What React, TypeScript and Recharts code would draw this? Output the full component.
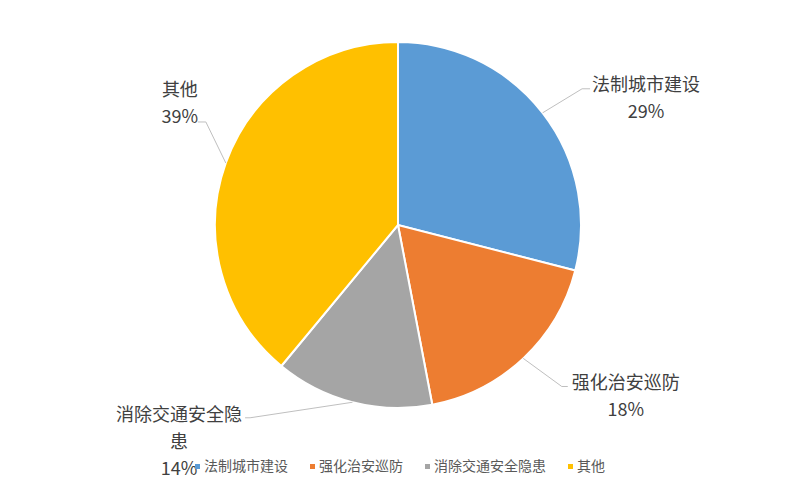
import React from 'react';
import { PieChart, Pie, Cell, Legend } from 'recharts';

const CATEGORIES = ['法制城市建设', '强化治安巡防', '消除交通安全隐患', '其他'];
const VALUES = [29, 18, 14, 39];
const COLORS = ['#5B9BD5', '#ED7D31', '#A5A5A5', '#FFC000'];

// label placement tweaks (relative to each slice's mid angle)
const LABEL_LAYOUT = [
  { angleOffset: 1.3, radius: 229, dx: 64, dy: -6, tail: 8 },
  { angleOffset: -2.2, radius: 230, dx: 64, dy: -5, tail: 6 },
  { angleOffset: 23.1, radius: 243, dx: -71, dy: -5, tail: -5 },
  { angleOffset: 8.4, radius: 218, dx: -26, dy: -34, tail: -8 },
];

const FONT = '"Noto Sans CJK SC", "Noto Sans", sans-serif';

const data = CATEGORIES.map((name, i) => ({ name, value: VALUES[i] }));

const chunk = (s: string, n: number) => {
  const out: string[] = [];
  const chars = Array.from(s);
  for (let i = 0; i < chars.length; i += n) out.push(chars.slice(i, i + n).join(''));
  return out;
};

const renderLabel = (props: any) => {
  const { cx, cy, midAngle, outerRadius, index, name, percent } = props;
  const L = LABEL_LAYOUT[index];
  const a = ((90 - midAngle) * Math.PI) / 180;
  const sx = cx + outerRadius * Math.sin(a);
  const sy = cy - outerRadius * Math.cos(a);
  const b = ((90 - midAngle + L.angleOffset) * Math.PI) / 180;
  const ex = cx + L.radius * Math.sin(b);
  const ey = cy - L.radius * Math.cos(b);
  const tx = ex + L.tail;
  const lines = chunk(String(name), 7).concat([`${Math.round(percent * 100)}%`]);
  const centerX = ex + L.dx;
  const firstY = ey + L.dy;
  return (
    <g>
      <path d={`M${sx},${sy}L${ex},${ey}L${tx},${ey}`} stroke="#BFBFBF" strokeWidth={1} fill="none" />
      {lines.map((ln, i) => (
        <text
          key={i}
          x={centerX}
          y={firstY + i * 27}
          textAnchor="middle"
          dominantBaseline="central"
          fill="#404040"
          fontSize={18}
          fontFamily={FONT}
        >
          {ln}
        </text>
      ))}
    </g>
  );
};

const renderLegend = () => (
  <div
    style={{
      display: 'flex',
      justifyContent: 'center',
      alignItems: 'center',
      height: 22,
      fontFamily: FONT,
      fontSize: 14,
      color: '#595959',
      whiteSpace: 'nowrap',
    }}
  >
    {CATEGORIES.map((c, i) => (
      <div key={c} style={{ display: 'flex', alignItems: 'center', marginLeft: i === 0 ? 0 : 22 }}>
        <span style={{ width: 5, height: 5, background: COLORS[i], marginRight: 4, marginTop: 3, display: 'inline-block' }} />
        <span style={{ lineHeight: '22px' }}>{c}</span>
      </div>
    ))}
  </div>
);

export default function App() {
  return (
    <div style={{ position: 'absolute', left: 0, top: 0, width: 800, height: 491, background: '#fff' }}>
      <PieChart width={800} height={491} margin={{ top: 0, right: 0, bottom: 0, left: 0 }}>
        <Pie
          data={data}
          dataKey="value"
          nameKey="name"
          cx={398}
          cy={225}
          outerRadius={183}
          startAngle={90}
          endAngle={-270}
          stroke="#FFFFFF"
          strokeWidth={2}
          label={renderLabel}
          labelLine={false}
          isAnimationActive={false}
        >
          {data.map((d, i) => (
            <Cell key={d.name} fill={COLORS[i]} />
          ))}
        </Pie>
        <Legend content={renderLegend} wrapperStyle={{ top: 454, left: 0, width: 800 }} />
      </PieChart>
    </div>
  );
}
